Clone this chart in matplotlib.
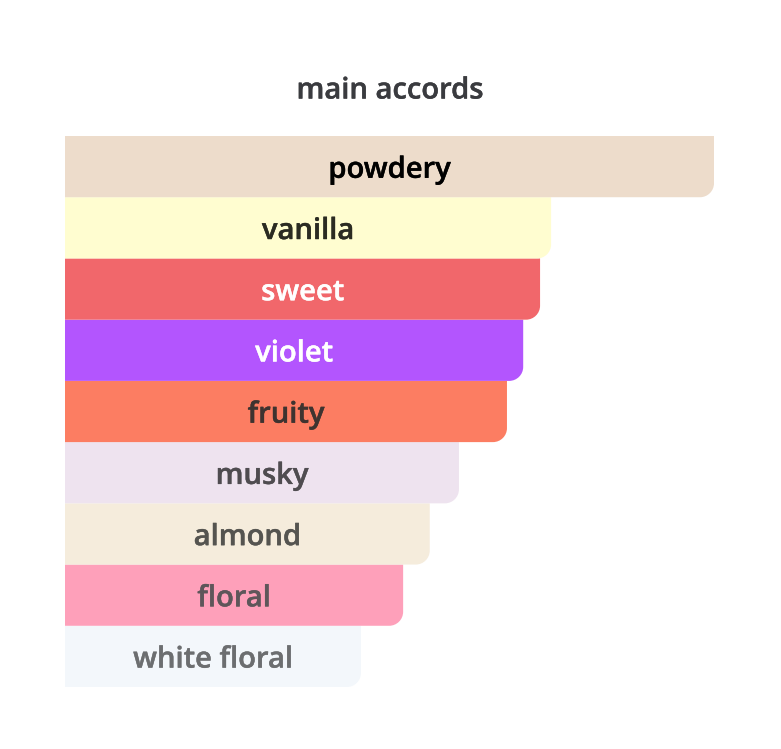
import matplotlib
matplotlib.use("Agg")
import matplotlib.pyplot as plt
from matplotlib.path import Path
from matplotlib.patches import PathPatch
import matplotlib.patheffects as pe

accords = ["powdery", "vanilla", "sweet", "violet", "fruity", "musky", "almond", "floral", "white floral"]
values = [100, 74.9, 73.2, 70.6, 68.1, 60.7, 56.2, 52.1, 45.6]
bar_colors = ["#EDDCCB", "#FFFDD0", "#F1676B", "#B355FE", "#FC7D62", "#EEE3EF", "#F5ECDC", "#FEA0BA", "#F3F7FB"]
text_colors = ["#000000", "#2b2b22", "#FFFFFF", "#FFFFFF", "#3e3330", "#4f4c50", "#555450", "#5e565a", "#6c6e70"]

W, H = 781, 749
fig = plt.figure(figsize=(W / 100, H / 100), dpi=100)
left_px, right_px, top_px, bot_px = 65, 714, 136, 687
ax = fig.add_axes([left_px / W, 1 - bot_px / H, (right_px - left_px) / W, (bot_px - top_px) / H])
n = len(accords)
ax.set_xlim(0, 100)
ax.set_ylim(n - 0.5, -0.5)
ax.axis("off")

xpp = 100 / (right_px - left_px)
ypp = n / (bot_px - top_px)
r = 14
rx, ry = r * xpp, r * ypp
k = 0.5523
font = ["Open Sans", "DejaVu Sans"]
for i, (name, v, c, tc) in enumerate(zip(accords, values, bar_colors, text_colors)):
    top = i - 0.5
    bot = i + 0.5
    verts = [(0, top), (v, top), (v, bot - ry),
             (v, bot - ry + k * ry), (v - rx + k * rx, bot), (v - rx, bot),
             (0, bot), (0, top)]
    codes = [Path.MOVETO, Path.LINETO, Path.LINETO,
             Path.CURVE4, Path.CURVE4, Path.CURVE4,
             Path.LINETO, Path.CLOSEPOLY]
    ax.add_patch(PathPatch(Path(verts, codes), facecolor=c, edgecolor="none", zorder=2 + (n - i) * 0.01))
    ax.text(v / 2, i + 0.06, name, ha="center", va="center", fontsize=21,
            fontfamily=font, fontweight="semibold", color=tc, zorder=5,
            path_effects=[pe.withStroke(linewidth=0.3, foreground=tc)])

fig.text(390 / W, 1 - 91 / H, "main accords", ha="center", va="center", fontsize=21,
         fontfamily=font, fontweight="semibold", color="#3a3b3f",
         path_effects=[pe.withStroke(linewidth=0.3, foreground="#3a3b3f")])

fig.savefig("out.png", dpi=100)
